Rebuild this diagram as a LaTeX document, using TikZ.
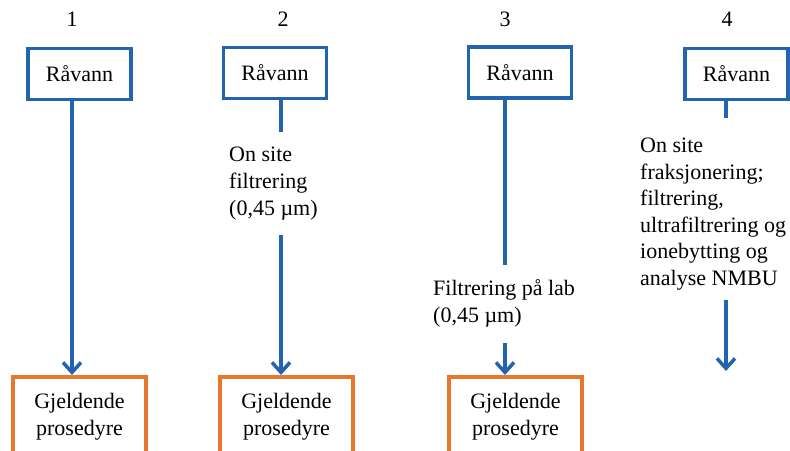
\documentclass[tikz,border=0pt]{standalone}
\usepackage{fontspec}
\setmainfont{Liberation Serif}
\usetikzlibrary{arrows.meta}
\definecolor{bl}{RGB}{35,100,175}
\definecolor{orng}{RGB}{230,120,45}
\begin{document}
\begin{tikzpicture}[x=1pt,y=-1pt,
  font=\fontsize{22}{27}\selectfont,
  raw/.style={draw=bl, line width=3.5pt, minimum width=103pt, minimum height=51pt, inner sep=0pt, fill=white},
  proc/.style={draw=orng, line width=3.5pt, minimum width=133pt, minimum height=80pt, anchor=north, align=center, inner sep=0pt},
  lbl/.style={align=left, anchor=north west, inner xsep=0pt, inner ysep=15pt},
  num/.style={inner sep=0pt},
  conn/.style={draw=bl, line width=3.5pt},
  arr/.style={conn, -{Straight Barb[length=10pt,width=18pt]}}]
\useasboundingbox (0,0) rectangle (790,450);
\clip (0,0) rectangle (790,450);
\fill[white] (0,0) rectangle (790,450);
% line x positions
\coordinate (ax1) at (72,0);
\coordinate (ax2) at (281,0);
\coordinate (ax3) at (505,0);
\coordinate (ax4) at (726,0);
% numbers
\node[num] (n1) at (72,19) {1};
\node[num] (n2) at (283,19) {2};
\node[num] (n3) at (505,19) {3};
\node[num] (n4) at (727,19) {4};
% raw water boxes
\node[raw] (r1) at (79.5,74) {Råvann};
\node[raw] (r2) at (275,73) {Råvann};
\node[raw] (r3) at (520,72.5) {Råvann};
\node[raw] (r4) at (736.5,74) {Råvann};
% procedure boxes
\node[proc] (g1) at (79.5,375) {Gjeldende\\prosedyre};
\node[proc] (g2) at (286.5,375) {Gjeldende\\prosedyre};
\node[proc] (g3) at (515.5,375) {Gjeldende\\prosedyre};
% labels
\node[lbl] (t2) at (229,131.5) {On site\\filtrering\\(0,45 µm)};
\node[lbl] (t3) at (433,264.5) {Filtrering på lab\\(0,45 µm)};
\node[lbl, inner ysep=20pt, font=\fontsize{22}{26.5}\selectfont] (t4) at (640,118) {On site\\fraksjonering;\\filtrering,\\ultrafiltrering og\\ionebytting og\\analyse NMBU};
\coordinate (e4) at (726,371);
% connectors
\draw[arr] (r1.south -| ax1) -- (g1.north -| ax1);
\draw[conn] (r2.south -| ax2) -- (t2.north -| ax2);
\draw[arr] (t2.south -| ax2) -- (g2.north -| ax2);
\draw[conn] (r3.south -| ax3) -- (t3.north -| ax3);
\draw[arr] (t3.south -| ax3) -- (g3.north -| ax3);
\draw[conn] (r4.south -| ax4) -- (t4.north -| ax4);
\draw[arr] ([yshift=10pt]t4.south -| ax4) -- (e4);
\end{tikzpicture}
\end{document}
